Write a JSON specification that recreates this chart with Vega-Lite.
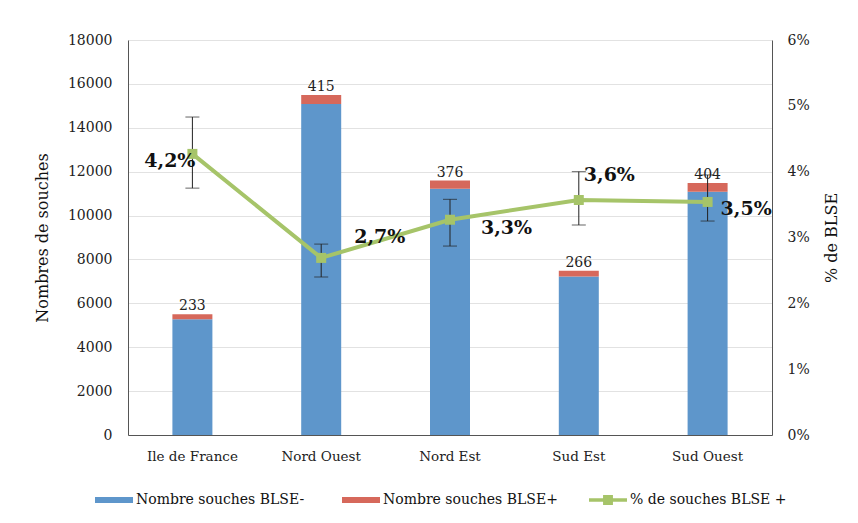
{
  "$schema": "https://vega.github.io/schema/vega-lite/v6.json",
  "width": 644,
  "height": 395,
  "autosize": {"type": "none"},
  "padding": {"left": 128, "top": 40, "right": 86, "bottom": 88},
  "background": "white",
  "config": {
    "font": "DejaVu Serif",
    "view": {"stroke": null},
    "axis": {"labelFont": "DejaVu Serif", "titleFont": "DejaVu Serif", "labelColor": "#222", "titleColor": "#111", "labelFontSize": 14, "titleFontSize": 16, "titleFontWeight": "normal", "domainColor": "#555", "ticks": false, "gridColor": "#e2e2e2"}
  },
  "datasets": {
    "bars": [
      {"region": "Ile de France", "series": "Nombre souches BLSE-", "value": 5270},
      {"region": "Ile de France", "series": "Nombre souches BLSE+", "value": 233},
      {"region": "Nord Ouest", "series": "Nombre souches BLSE-", "value": 15080},
      {"region": "Nord Ouest", "series": "Nombre souches BLSE+", "value": 415},
      {"region": "Nord Est", "series": "Nombre souches BLSE-", "value": 11220},
      {"region": "Nord Est", "series": "Nombre souches BLSE+", "value": 376},
      {"region": "Sud Est", "series": "Nombre souches BLSE-", "value": 7220},
      {"region": "Sud Est", "series": "Nombre souches BLSE+", "value": 266},
      {"region": "Sud Ouest", "series": "Nombre souches BLSE-", "value": 11080},
      {"region": "Sud Ouest", "series": "Nombre souches BLSE+", "value": 404}
    ],
    "pct": [
      {"region": "Ile de France", "series": "% de souches BLSE +", "pct": 0.0427, "lo": 0.0375, "hi": 0.0483, "total": 5503, "n": 233, "label": "4,2%"},
      {"region": "Nord Ouest", "series": "% de souches BLSE +", "pct": 0.0269, "lo": 0.0240, "hi": 0.0290, "total": 15495, "n": 415, "label": "2,7%"},
      {"region": "Nord Est", "series": "% de souches BLSE +", "pct": 0.0327, "lo": 0.0287, "hi": 0.0358, "total": 11596, "n": 376, "label": "3,3%"},
      {"region": "Sud Est", "series": "% de souches BLSE +", "pct": 0.0357, "lo": 0.0319, "hi": 0.0400, "total": 7486, "n": 266, "label": "3,6%"},
      {"region": "Sud Ouest", "series": "% de souches BLSE +", "pct": 0.0354, "lo": 0.0325, "hi": 0.0395, "total": 11484, "n": 404, "label": "3,5%"}
    ]
  },
  "encoding": {
    "x": {"field": "region", "type": "nominal", "sort": ["Ile de France", "Nord Ouest", "Nord Est", "Sud Est", "Sud Ouest"], "title": null,
      "axis": {"labelAngle": 0, "labelFontSize": 13.5, "labelPadding": 14, "domainColor": "#555"}}
  },
  "layer": [
    {
      "layer": [
        {
          "data": {"name": "bars"},
          "mark": {"type": "bar", "width": 40},
          "encoding": {
            "y": {"field": "value", "type": "quantitative", "stack": "zero", "title": "Nombres de souches",
              "scale": {"domain": [0, 18000]},
              "axis": {"values": [0,2000,4000,6000,8000,10000,12000,14000,16000,18000], "format": "d", "titlePadding": 17, "labelPadding": 16}},
            "color": {"field": "series", "type": "nominal",
              "scale": {"domain": ["Nombre souches BLSE-", "Nombre souches BLSE+", "% de souches BLSE +"], "range": ["#5e96cb", "#d6685b", "#a6c469"]},
              "legend": {"title": null, "orient": "none", "legendX": -33, "legendY": 441, "direction": "horizontal", "columns": 3, "gridAlign": "all",
                "labelFont": "DejaVu Serif", "labelFontSize": 14, "labelColor": "#111", "columnPadding": 31,
                "symbolType": "M-1,-0.16H1V0.16H-1Z", "symbolSize": 1444, "symbolStrokeWidth": 0, "symbolOpacity": 1, "labelOffset": 3, "labelLimit": 300,
                "encode": {"symbols": {"update": {"shape": {"signal": "datum.value === '% de souches BLSE +' ? 'M-1,-0.09H1V0.09H-1Z M-0.26,-0.26H0.26V0.26H-0.26Z' : 'M-1,-0.16H1V0.16H-1Z'"}}}}}
            }
          }
        },
        {
          "data": {"name": "pct"},
          "mark": {"type": "text", "baseline": "bottom", "dy": -1, "fontSize": 14, "color": "#222"},
          "encoding": {
            "y": {"field": "total", "type": "quantitative"},
            "text": {"field": "n"}
          }
        }
      ]
    },
    {
      "data": {"name": "pct"},
      "layer": [
        {
          "mark": {"type": "errorbar", "ticks": {"size": 14, "color": "#222"}, "rule": {"color": "#222", "strokeWidth": 1}},
          "encoding": {
            "y": {"field": "lo", "type": "quantitative", "scale": {"domain": [0, 0.06]}, "title": "% de BLSE"},
            "y2": {"field": "hi"}
          }
        },
        {
          "mark": {"type": "line", "strokeWidth": 4},
          "encoding": {
            "y": {"field": "pct", "type": "quantitative", "scale": {"domain": [0, 0.06]}, "title": "% de BLSE",
              "axis": {"orient": "right", "format": ".0%", "values": [0,0.01,0.02,0.03,0.04,0.05,0.06], "titleAngle": -90, "titlePadding": 30, "labelPadding": 15, "grid": false}},
            "color": {"field": "series", "type": "nominal"}
          }
        },
        {
          "mark": {"type": "square", "filled": true, "size": 100, "opacity": 1},
          "encoding": {
            "y": {"field": "pct", "type": "quantitative"},
            "color": {"field": "series", "type": "nominal"}
          }
        },
        {
          "transform": [{"filter": "datum.region === 'Ile de France'"}],
          "mark": {"type": "text", "align": "right", "baseline": "middle", "dx": 3, "dy": 7, "fontSize": 19, "fontWeight": "bold", "color": "#111"},
          "encoding": {"y": {"field": "pct", "type": "quantitative"}, "text": {"field": "label"}}
        },
        {
          "transform": [{"filter": "datum.region === 'Nord Ouest'"}],
          "mark": {"type": "text", "align": "left", "baseline": "middle", "dx": 33, "dy": -21, "fontSize": 19, "fontWeight": "bold", "color": "#111"},
          "encoding": {"y": {"field": "pct", "type": "quantitative"}, "text": {"field": "label"}}
        },
        {
          "transform": [{"filter": "datum.region === 'Nord Est'"}],
          "mark": {"type": "text", "align": "left", "baseline": "middle", "dx": 31, "dy": 8, "fontSize": 19, "fontWeight": "bold", "color": "#111"},
          "encoding": {"y": {"field": "pct", "type": "quantitative"}, "text": {"field": "label"}}
        },
        {
          "transform": [{"filter": "datum.region === 'Sud Est'"}],
          "mark": {"type": "text", "align": "left", "baseline": "middle", "dx": 5, "dy": -25, "fontSize": 19, "fontWeight": "bold", "color": "#111"},
          "encoding": {"y": {"field": "pct", "type": "quantitative"}, "text": {"field": "label"}}
        },
        {
          "transform": [{"filter": "datum.region === 'Sud Ouest'"}],
          "mark": {"type": "text", "align": "left", "baseline": "middle", "dx": 13, "dy": 7, "fontSize": 19, "fontWeight": "bold", "color": "#111"},
          "encoding": {"y": {"field": "pct", "type": "quantitative"}, "text": {"field": "label"}}
        }
      ]
    }
  ],
  "resolve": {"scale": {"y": "independent"}}
}
